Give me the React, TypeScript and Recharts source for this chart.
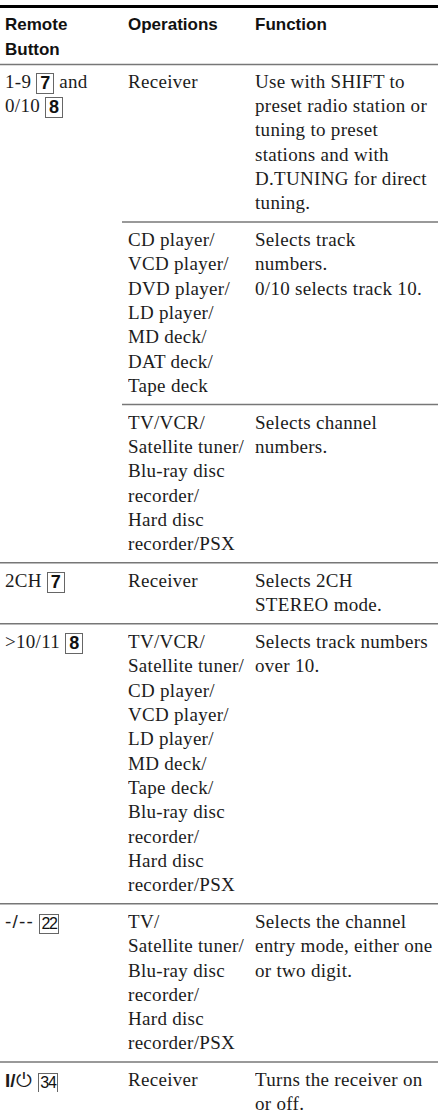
import React from "react";
import { ScatterChart, Scatter, XAxis, YAxis, ReferenceLine } from "recharts";

// header cells, one list of lines per column
const headers = [["Remote", "Button"], ["Operations"], ["Function"]];

// one entry per sub-row. [n] = boxed key number, {n} = small boxed number,
// *txt* = sans text, **txt** = bold sans text
const remoteButton = [
  ["1-9 [7] and", "0/10 [8]"],
  [],
  [],
  ["2CH [7]"],
  [">10/11 [8]"],
  ["*-/--* {22}"],
  ["**I/**⏻ {34}"],
];

const operations = [
  ["Receiver"],
  ["CD player/", "VCD player/", "DVD player/", "LD player/", "MD deck/", "DAT deck/", "Tape deck"],
  ["TV/VCR/", "Satellite tuner/", "Blu-ray disc", "recorder/", "Hard disc", "recorder/PSX"],
  ["Receiver"],
  [
    "TV/VCR/", "Satellite tuner/", "CD player/", "VCD player/", "LD player/", "MD deck/",
    "Tape deck/", "Blu-ray disc", "recorder/", "Hard disc", "recorder/PSX",
  ],
  ["TV/", "Satellite tuner/", "Blu-ray disc", "recorder/", "Hard disc", "recorder/PSX"],
  ["Receiver"],
];

const functions = [
  ["Use with SHIFT to", "preset radio station or", "tuning to preset", "stations and with", "D.TUNING for direct", "tuning."],
  ["Selects track", "numbers.", "0/10 selects track 10."],
  ["Selects channel", "numbers."],
  ["Selects 2CH", "STEREO mode."],
  ["Selects track numbers", "over 10."],
  ["Selects the channel", "entry mode, either one", "or two digit."],
  ["Turns the receiver on", "or off."],
];

// true where a sub-row starts a new remote button (full width rule above it)
const newButton = [true, false, false, true, true, true, true];

const W = 438;
const H = 1119;
const PITCH = 24.3; // px per text line
const FIRST = 82; // px centre of first body line
const GAP = 0.514; // extra space between sub-rows, in lines
const colX = [5, 128, 255];
const subRuleX = 122;

const columns = [remoteButton, operations, functions];
const bodyPoints: { x: number; y: number; text: string }[] = [];
const rules: { y: number; full: boolean }[] = [];
let cursor = 0;
operations.forEach((_, i) => {
  const n = Math.max(...columns.map((col) => col[i].length));
  if (i > 0) rules.push({ y: cursor - (1 + GAP) / 2, full: newButton[i] });
  columns.forEach((col, c) => col[i].forEach((t, k) => bodyPoints.push({ x: colX[c], y: cursor + k, text: t })));
  cursor += n + GAP;
});

const headPoints = headers.flatMap((lines, c) =>
  lines.map((t, k) => ({ x: colX[c], y: -2.35 + k * 1.03, text: t }))
);

const sans = '"Liberation Sans", Arial, sans-serif';

const boxBase: React.CSSProperties = {
  display: "inline-block",
  boxSizing: "border-box",
  border: "1px solid #666",
  verticalAlign: "middle",
  fontFamily: sans,
  color: "#111",
  textAlign: "center",
  letterSpacing: 0,
};

function renderTokens(text: string) {
  return text.split(/(\[\d+\]|\{\d+\}|\*\*[^*]+\*\*|\*[^*]+\*)/).map((part, i) => {
    if (!part) return null;
    if (part.startsWith("[")) {
      return (
        <span key={i} style={{ ...boxBase, height: 21, width: 18, lineHeight: "19px", fontSize: 18, fontWeight: 700 }}>
          {part.slice(1, -1)}
        </span>
      );
    }
    if (part.startsWith("{")) {
      return (
        <span key={i} style={{ ...boxBase, height: 20, width: 20, lineHeight: "18px", fontSize: 16, letterSpacing: -1.2 }}>
          {part.slice(1, -1)}
        </span>
      );
    }
    if (part.startsWith("**")) {
      return <span key={i} style={{ fontFamily: sans, fontWeight: 700, fontSize: 19, letterSpacing: 0 }}>{part.slice(2, -2)}</span>;
    }
    if (part.startsWith("*")) {
      return <span key={i} style={{ fontFamily: sans, fontSize: 19, letterSpacing: 1.2 }}>{part.slice(1, -1)}</span>;
    }
    if (part.startsWith("⏻")) {
      return <span key={i} style={{ fontFamily: '"DejaVu Sans", sans-serif', fontSize: 20, letterSpacing: 0 }}>{part}</span>;
    }
    return <span key={i}>{part}</span>;
  });
}

const BodyCell = (props: any) => {
  const { cx, cy, payload } = props;
  return (
    <foreignObject x={cx} y={cy - PITCH / 2} width={W - cx} height={PITCH}>
      <div style={{ fontFamily: '"Liberation Serif", "Times New Roman", serif', fontSize: 19, letterSpacing: 0.3, lineHeight: `${PITCH}px`, whiteSpace: "nowrap", color: "#1c1c1c" }}>
        {renderTokens(payload.text)}
      </div>
    </foreignObject>
  );
};

const HeadCell = (props: any) => {
  const { cx, cy, payload } = props;
  return (
    <text x={cx} y={cy} dominantBaseline="central" fontFamily={sans} fontWeight={700} fontSize={17} fill="#111">
      {payload.text}
    </text>
  );
};

export default function App() {
  return (
    <div style={{ width: W, height: H, background: "#fff" }}>
      <style>{"body{margin:0}"}</style>
      <ScatterChart width={W} height={H} margin={{ top: 0, right: 0, bottom: 0, left: 0 }}>
        <XAxis type="number" dataKey="x" domain={[0, W]} hide allowDataOverflow />
        <YAxis type="number" dataKey="y" domain={[-FIRST / PITCH, (H - FIRST) / PITCH]} reversed hide allowDataOverflow />
        <ReferenceLine y={-3.107} stroke="#000" strokeWidth={3} />
        <ReferenceLine y={-0.72} stroke="#777" strokeWidth={1.5} />
        {rules.map((r, i) =>
          r.full ? (
            <ReferenceLine key={i} y={r.y} stroke="#777" strokeWidth={1.5} />
          ) : (
            <ReferenceLine key={i} segment={[{ x: subRuleX, y: r.y }, { x: W, y: r.y }]} stroke="#777" strokeWidth={1.5} />
          )
        )}
        <Scatter data={headPoints} shape={HeadCell} isAnimationActive={false} />
        <Scatter data={bodyPoints} shape={BodyCell} isAnimationActive={false} />
      </ScatterChart>
    </div>
  );
}
